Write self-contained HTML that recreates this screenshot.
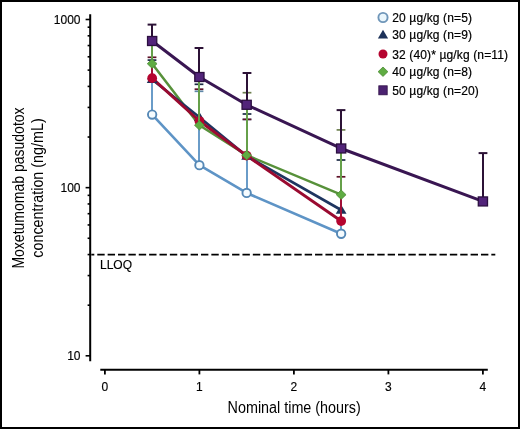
<!DOCTYPE html>
<html><head><meta charset="utf-8"><style>html,body{margin:0;padding:0;background:#fff;width:520px;height:429px;overflow:hidden}</style></head>
<body>
<svg width="520" height="429" viewBox="0 0 520 429" style="display:block;will-change:transform">
<rect x="0" y="0" width="520" height="429" fill="#fff"/>
<g stroke="#000" stroke-width="2" fill="none">
<line x1="90.2" y1="14.2" x2="90.2" y2="361.2"/>
<line x1="85.6" y1="355.80" x2="90" y2="355.80" stroke-width="1.6"/>
<line x1="85.6" y1="187.65" x2="90" y2="187.65" stroke-width="1.6"/>
<line x1="85.6" y1="19.50" x2="90" y2="19.50" stroke-width="1.6"/>
<line x1="87.6" y1="305.18" x2="90" y2="305.18" stroke-width="1.6"/>
<line x1="87.6" y1="275.57" x2="90" y2="275.57" stroke-width="1.6"/>
<line x1="87.6" y1="254.56" x2="90" y2="254.56" stroke-width="1.6"/>
<line x1="87.6" y1="238.27" x2="90" y2="238.27" stroke-width="1.6"/>
<line x1="87.6" y1="224.95" x2="90" y2="224.95" stroke-width="1.6"/>
<line x1="87.6" y1="213.70" x2="90" y2="213.70" stroke-width="1.6"/>
<line x1="87.6" y1="203.95" x2="90" y2="203.95" stroke-width="1.6"/>
<line x1="87.6" y1="195.34" x2="90" y2="195.34" stroke-width="1.6"/>
<line x1="87.6" y1="137.03" x2="90" y2="137.03" stroke-width="1.6"/>
<line x1="87.6" y1="107.42" x2="90" y2="107.42" stroke-width="1.6"/>
<line x1="87.6" y1="86.41" x2="90" y2="86.41" stroke-width="1.6"/>
<line x1="87.6" y1="70.12" x2="90" y2="70.12" stroke-width="1.6"/>
<line x1="87.6" y1="56.80" x2="90" y2="56.80" stroke-width="1.6"/>
<line x1="87.6" y1="45.55" x2="90" y2="45.55" stroke-width="1.6"/>
<line x1="87.6" y1="35.80" x2="90" y2="35.80" stroke-width="1.6"/>
<line x1="87.6" y1="27.19" x2="90" y2="27.19" stroke-width="1.6"/>
<line x1="100.3" y1="369.8" x2="487.8" y2="369.8"/>
<line x1="104.90" y1="369.8" x2="104.90" y2="374.4" stroke-width="1.8"/>
<line x1="199.40" y1="369.8" x2="199.40" y2="374.4" stroke-width="1.8"/>
<line x1="293.90" y1="369.8" x2="293.90" y2="374.4" stroke-width="1.8"/>
<line x1="388.40" y1="369.8" x2="388.40" y2="374.4" stroke-width="1.8"/>
<line x1="482.90" y1="369.8" x2="482.90" y2="374.4" stroke-width="1.8"/>
</g>
<line x1="91.3" y1="254.6" x2="495.3" y2="254.6" stroke="#000" stroke-width="1.9" stroke-dasharray="7.4 2.97" stroke-dashoffset="4.4"/>
<g font-family="Liberation Sans, sans-serif" font-size="12" fill="#000" stroke="#000" stroke-width="0.15">
<text x="80.5" y="24.10" text-anchor="end" stroke="#000" stroke-width="0.15">1000</text>
<text x="80.5" y="192.25" text-anchor="end" stroke="#000" stroke-width="0.15">100</text>
<text x="80.5" y="360.40" text-anchor="end" stroke="#000" stroke-width="0.15">10</text>
<text x="104.90" y="390.6" text-anchor="middle">0</text>
<text x="199.40" y="390.6" text-anchor="middle">1</text>
<text x="293.90" y="390.6" text-anchor="middle">2</text>
<text x="388.40" y="390.6" text-anchor="middle">3</text>
<text x="482.90" y="390.6" text-anchor="middle">4</text>
<text x="100" y="269.2">LLOQ</text>
</g>
<text font-family="Liberation Sans, sans-serif" font-size="16" x="294.2" y="412.8" text-anchor="middle" textLength="133.2" lengthAdjust="spacingAndGlyphs">Nominal time (hours)</text>
<text font-family="Liberation Sans, sans-serif" font-size="16" transform="translate(24.2,188) rotate(-90)" x="0" y="0" text-anchor="middle" textLength="161.2" lengthAdjust="spacingAndGlyphs">Moxetumomab pasudotox</text>
<text font-family="Liberation Sans, sans-serif" font-size="16" transform="translate(42.7,188) rotate(-90)" x="0" y="0" text-anchor="middle" textLength="139.3" lengthAdjust="spacingAndGlyphs">concentration (ng/mL)</text>
<polyline points="152.15,114.58 199.40,165.20 246.65,192.95 341.15,233.74" fill="none" stroke="#5e94c6" stroke-width="2.6" stroke-linejoin="round"/>
<polyline points="152.15,63.69 199.40,125.25 246.65,155.18 341.15,194.70" fill="none" stroke="#57913a" stroke-width="2.5" stroke-linejoin="round"/>
<polyline points="152.15,79.45 199.40,117.31 246.65,156.12 341.15,210.03" fill="none" stroke="#1e3560" stroke-width="2.7" stroke-linejoin="round"/>
<polyline points="152.15,78.14 199.40,121.03 246.65,155.65 341.15,221.04" fill="none" stroke="#9a0a30" stroke-width="2.9" stroke-linejoin="round"/>
<polyline points="152.15,41.00 199.40,77.01 246.65,104.79 341.15,148.47 482.90,201.43" fill="none" stroke="#391652" stroke-width="3.0" stroke-linejoin="round"/>
<line x1="152" y1="114.58" x2="152" y2="79.00" stroke="#6a9cc8" stroke-width="2"/>
<line x1="147.60" y1="79.00" x2="156.40" y2="79.00" stroke="#5f87a8" stroke-width="1.7"/>
<line x1="199" y1="165.20" x2="199" y2="91.30" stroke="#6a9cc8" stroke-width="2"/>
<line x1="194.60" y1="91.30" x2="203.40" y2="91.30" stroke="#5f87a8" stroke-width="1.7"/>
<line x1="247" y1="192.95" x2="247" y2="119.40" stroke="#6a9cc8" stroke-width="2"/>
<line x1="242.60" y1="119.40" x2="251.40" y2="119.40" stroke="#5f87a8" stroke-width="1.7"/>
<line x1="341" y1="233.74" x2="341" y2="221.00" stroke="#6a9cc8" stroke-width="2"/>
<line x1="336.60" y1="221.00" x2="345.40" y2="221.00" stroke="#5f87a8" stroke-width="1.7"/>
<circle cx="152.15" cy="114.58" r="4.2" fill="#f6fcff" stroke="#5588b6" stroke-width="1.9"/>
<circle cx="199.40" cy="165.20" r="4.2" fill="#f6fcff" stroke="#5588b6" stroke-width="1.9"/>
<circle cx="246.65" cy="192.95" r="4.2" fill="#f6fcff" stroke="#5588b6" stroke-width="1.9"/>
<circle cx="341.15" cy="233.74" r="4.2" fill="#f6fcff" stroke="#5588b6" stroke-width="1.9"/>
<line x1="152" y1="79.45" x2="152" y2="60.10" stroke="#233a5e" stroke-width="2"/>
<line x1="147.60" y1="60.10" x2="156.40" y2="60.10" stroke="#1b2a44" stroke-width="1.7"/>
<line x1="199" y1="117.31" x2="199" y2="84.30" stroke="#233a5e" stroke-width="2"/>
<line x1="194.60" y1="84.30" x2="203.40" y2="84.30" stroke="#1b2a44" stroke-width="1.7"/>
<line x1="247" y1="156.12" x2="247" y2="114.00" stroke="#233a5e" stroke-width="2"/>
<line x1="242.60" y1="114.00" x2="251.40" y2="114.00" stroke="#1b2a44" stroke-width="1.7"/>
<line x1="341" y1="210.03" x2="341" y2="160.00" stroke="#233a5e" stroke-width="2"/>
<line x1="336.60" y1="160.00" x2="345.40" y2="160.00" stroke="#1b2a44" stroke-width="1.7"/>
<polygon points="152.15,74.25 157.55,83.05 146.75,83.05" fill="#1c3159"/>
<polygon points="199.40,112.11 204.80,120.91 194.00,120.91" fill="#1c3159"/>
<polygon points="246.65,150.92 252.05,159.72 241.25,159.72" fill="#1c3159"/>
<polygon points="341.15,204.83 346.55,213.63 335.75,213.63" fill="#1c3159"/>
<line x1="152" y1="78.14" x2="152" y2="57.30" stroke="#a01038" stroke-width="2"/>
<line x1="147.60" y1="57.30" x2="156.40" y2="57.30" stroke="#5e1128" stroke-width="1.7"/>
<line x1="199" y1="121.03" x2="199" y2="89.20" stroke="#a01038" stroke-width="2"/>
<line x1="194.60" y1="89.20" x2="203.40" y2="89.20" stroke="#5e1128" stroke-width="1.7"/>
<line x1="247" y1="155.65" x2="247" y2="119.40" stroke="#a01038" stroke-width="2"/>
<line x1="242.60" y1="119.40" x2="251.40" y2="119.40" stroke="#5e1128" stroke-width="1.7"/>
<line x1="341" y1="221.04" x2="341" y2="176.80" stroke="#a01038" stroke-width="2"/>
<line x1="336.60" y1="176.80" x2="345.40" y2="176.80" stroke="#5e1128" stroke-width="1.7"/>
<circle cx="152.15" cy="78.14" r="4.9" fill="#b5042f"/>
<circle cx="199.40" cy="121.03" r="4.9" fill="#b5042f"/>
<circle cx="246.65" cy="155.65" r="4.9" fill="#b5042f"/>
<circle cx="341.15" cy="221.04" r="4.9" fill="#b5042f"/>
<line x1="152" y1="63.69" x2="152" y2="44.00" stroke="#66a04a" stroke-width="2"/>
<line x1="147.60" y1="44.00" x2="156.40" y2="44.00" stroke="#6d7f4e" stroke-width="1.7"/>
<line x1="199" y1="125.25" x2="199" y2="78.00" stroke="#66a04a" stroke-width="2"/>
<line x1="194.60" y1="78.00" x2="203.40" y2="78.00" stroke="#6d7f4e" stroke-width="1.7"/>
<line x1="247" y1="155.18" x2="247" y2="92.70" stroke="#66a04a" stroke-width="2"/>
<line x1="242.60" y1="92.70" x2="251.40" y2="92.70" stroke="#6d7f4e" stroke-width="1.7"/>
<line x1="341" y1="194.70" x2="341" y2="129.90" stroke="#66a04a" stroke-width="2"/>
<line x1="336.60" y1="129.90" x2="345.40" y2="129.90" stroke="#6d7f4e" stroke-width="1.7"/>
<polygon points="152.15,58.99 157.05,63.69 152.15,68.39 147.25,63.69" fill="#5fac42" stroke="#4d8c36" stroke-width="0.8"/>
<polygon points="199.40,120.55 204.30,125.25 199.40,129.95 194.50,125.25" fill="#5fac42" stroke="#4d8c36" stroke-width="0.8"/>
<polygon points="246.65,150.48 251.55,155.18 246.65,159.88 241.75,155.18" fill="#5fac42" stroke="#4d8c36" stroke-width="0.8"/>
<polygon points="341.15,190.00 346.05,194.70 341.15,199.40 336.25,194.70" fill="#5fac42" stroke="#4d8c36" stroke-width="0.8"/>
<line x1="152" y1="41.00" x2="152" y2="24.60" stroke="#2c1236" stroke-width="2"/>
<line x1="147.60" y1="24.60" x2="156.40" y2="24.60" stroke="#2c1236" stroke-width="2.0"/>
<line x1="199" y1="77.01" x2="199" y2="48.00" stroke="#2c1236" stroke-width="2"/>
<line x1="194.60" y1="48.00" x2="203.40" y2="48.00" stroke="#2c1236" stroke-width="2.0"/>
<line x1="247" y1="104.79" x2="247" y2="73.00" stroke="#2c1236" stroke-width="2"/>
<line x1="242.60" y1="73.00" x2="251.40" y2="73.00" stroke="#2c1236" stroke-width="2.0"/>
<line x1="341" y1="148.47" x2="341" y2="110.10" stroke="#2c1236" stroke-width="2"/>
<line x1="336.60" y1="110.10" x2="345.40" y2="110.10" stroke="#2c1236" stroke-width="2.0"/>
<line x1="483" y1="201.43" x2="483" y2="153.10" stroke="#2c1236" stroke-width="2"/>
<line x1="478.60" y1="153.10" x2="487.40" y2="153.10" stroke="#2c1236" stroke-width="2.0"/>
<rect x="147.55" y="36.50" width="9.2" height="9.0" fill="#52247a" stroke="#2c0f40" stroke-width="1.3"/>
<rect x="194.80" y="72.51" width="9.2" height="9.0" fill="#52247a" stroke="#2c0f40" stroke-width="1.3"/>
<rect x="242.05" y="100.29" width="9.2" height="9.0" fill="#52247a" stroke="#2c0f40" stroke-width="1.3"/>
<rect x="336.55" y="143.97" width="9.2" height="9.0" fill="#52247a" stroke="#2c0f40" stroke-width="1.3"/>
<rect x="478.30" y="196.93" width="9.2" height="9.0" fill="#52247a" stroke="#2c0f40" stroke-width="1.3"/>
<circle cx="383.00" cy="17.50" r="4.6" fill="#eaf6fc" stroke="#6f96b9" stroke-width="1.9"/>
<text font-family="Liberation Sans, sans-serif" font-size="12" letter-spacing="0.13" x="392.3" y="21.80" stroke="#000" stroke-width="0.2">20 µg/kg (n=5)</text>
<polygon points="383.00,29.80 388.10,38.60 377.90,38.60" fill="#1c3159"/>
<text font-family="Liberation Sans, sans-serif" font-size="12" letter-spacing="0.13" x="392.3" y="38.90" stroke="#000" stroke-width="0.2">30 µg/kg (n=9)</text>
<circle cx="383.00" cy="54.00" r="4.5" fill="#b5042f"/>
<text font-family="Liberation Sans, sans-serif" font-size="12" letter-spacing="0.13" x="392.3" y="58.60" stroke="#000" stroke-width="0.2">32 (40)* µg/kg (n=11)</text>
<polygon points="383.00,67.00 387.90,71.70 383.00,76.40 378.10,71.70" fill="#5fac42" stroke="#4d8c36" stroke-width="0.8"/>
<text font-family="Liberation Sans, sans-serif" font-size="12" letter-spacing="0.13" x="392.3" y="76.40" stroke="#000" stroke-width="0.2">40 µg/kg (n=8)</text>
<rect x="378.80" y="85.80" width="8.4" height="9" fill="#4b2270" stroke="#2f1046" stroke-width="0.8"/>
<text font-family="Liberation Sans, sans-serif" font-size="12" letter-spacing="0.13" x="392.3" y="94.90" stroke="#000" stroke-width="0.2">50 µg/kg (n=20)</text>
<rect x="1" y="1" width="518" height="427" fill="none" stroke="#000" stroke-width="2"/>
</svg>
</body></html>
